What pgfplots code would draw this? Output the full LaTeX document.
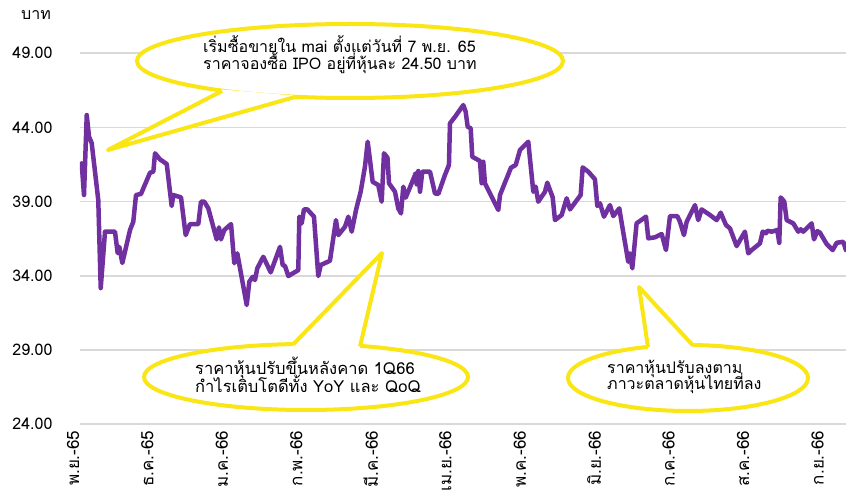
\documentclass[border=0pt]{standalone}
\usepackage{pgfplots}
\pgfplotsset{compat=1.18}
\usepackage{fontspec}
\setmainfont[Script=Thai]{Loma}
\definecolor{linepurple}{RGB}{112,48,160}
\definecolor{cyellow}{RGB}{250,230,20}
\definecolor{gridgray}{RGB}{217,217,217}
\pgfplotstableread{
x y
0.023 41.57
0.054 39.44
0.091 44.83
0.122 43.37
0.158 42.94
0.247 39.10
0.280 33.17
0.338 36.97
0.473 36.97
0.509 35.53
0.531 35.95
0.572 34.86
0.676 37.08
0.720 37.64
0.757 39.44
0.824 39.51
0.946 40.94
0.991 41.01
1.014 42.25
1.081 41.84
1.172 41.53
1.239 38.70
1.261 39.44
1.365 39.28
1.428 36.74
1.486 37.48
1.599 37.48
1.635 38.99
1.680 38.99
1.734 38.54
1.847 36.45
1.878 37.26
1.905 36.45
1.950 37.08
2.041 37.48
2.085 34.84
2.126 35.51
2.253 32.03
2.288 33.60
2.334 33.93
2.365 33.71
2.396 34.50
2.477 35.28
2.577 34.23
2.703 35.95
2.739 34.72
2.770 34.67
2.815 33.98
2.950 34.38
2.964 37.98
2.996 37.53
3.027 38.47
3.072 38.47
3.162 37.98
3.220 33.98
3.253 34.72
3.378 35.01
3.459 37.75
3.491 36.74
3.581 37.30
3.626 37.98
3.672 36.97
3.730 38.43
3.793 39.66
3.851 41.35
3.888 43.03
3.955 40.33
4.031 40.11
4.077 38.99
4.108 42.25
4.155 41.96
4.176 40.23
4.257 39.66
4.301 38.54
4.338 38.20
4.369 40.00
4.401 39.26
4.482 40.23
4.536 40.90
4.550 40.16
4.572 41.06
4.595 39.66
4.626 41.01
4.730 41.01
4.797 39.55
4.842 39.51
4.932 40.79
4.986 41.46
5.000 44.27
5.068 44.71
5.180 45.50
5.212 45.05
5.239 44.04
5.280 43.93
5.301 42.02
5.405 41.73
5.428 40.23
5.450 41.68
5.473 40.23
5.653 38.43
5.676 39.44
5.824 41.28
5.888 41.46
5.946 42.47
6.058 43.03
6.126 39.66
6.158 40.00
6.193 38.99
6.284 39.66
6.315 40.27
6.388 39.28
6.419 37.75
6.509 38.09
6.577 39.22
6.622 38.47
6.766 39.44
6.793 41.30
6.869 41.01
6.959 40.50
6.991 38.70
7.027 38.88
7.081 37.98
7.162 38.76
7.207 38.02
7.288 38.54
7.320 37.57
7.409 34.94
7.432 35.51
7.464 34.50
7.522 37.53
7.649 37.98
7.680 36.52
7.770 36.59
7.861 36.81
7.919 35.73
7.973 38.02
8.072 38.02
8.108 37.64
8.162 36.74
8.199 37.64
8.311 38.76
8.355 37.75
8.401 38.47
8.514 38.09
8.604 37.75
8.658 38.25
8.730 37.42
8.784 37.19
8.874 36.00
8.986 36.97
9.031 35.51
9.077 35.73
9.189 36.18
9.226 36.97
9.270 36.86
9.288 37.03
9.347 36.97
9.423 37.08
9.450 36.22
9.469 39.28
9.518 38.99
9.550 37.75
9.639 37.53
9.707 36.97
9.739 37.13
9.774 36.97
9.888 37.53
9.919 36.45
9.964 37.01
10.000 36.90
10.090 36.14
10.172 35.73
10.226 36.22
10.315 36.29
10.351 35.73
}\pricedata
\begin{document}
\begin{tikzpicture}
\useasboundingbox (0pt,0pt) rectangle (846pt,493pt);
\clip (0pt,0pt) rectangle (846pt,493pt);
\fill[white] (0pt,0pt) rectangle (846pt,493pt);
\begin{axis}[
  at={(80pt,68.8pt)}, anchor=south west,
  scale only axis, width=766.6pt, height=371.1pt,
  xmin=0, xmax=10.36, ymin=24, ymax=49,
  axis line style={draw=none},
  major tick length=0pt,
  ytick={24,29,34,39,44,49},
  ymajorgrids, major grid style={gridgray, line width=1.5pt},
  xtick={0,1.006,2.012,3.019,4.025,5.031,6.037,7.043,8.050,9.056,10.062},
  xticklabels={พ.ย.-65,ธ.ค.-65,ม.ค.-66,ก.พ.-66,มี.ค.-66,เม.ย.-66,พ.ค.-66,มิ.ย.-66,ก.ค.-66,ส.ค.-66,ก.ย.-66},
  xticklabel style={xshift=-7pt, yshift=-3pt, rotate=90, anchor=east, font=\fontsize{17}{20}\selectfont},
  yticklabel style={/pgf/number format/.cd, fixed, fixed zerofill, precision=2, assume math mode=true, /tikz/.cd, font=\fontsize{16}{19}\selectfont, xshift=-24pt},
]
\addplot[linepurple, line width=4.5pt, line join=round, line cap=round, mark=none] table[x=x,y=y] {\pricedata};
\end{axis}
\begin{scope}[x=1pt,y=1pt]
% callout 1
\filldraw[draw=cyellow, fill=white, line width=4pt] (350,432) ellipse [x radius=213, y radius=37];
\fill[white] (222,403.5) -- (108,343) -- (295,397.5) -- cycle;
\draw[cyellow, line width=4pt, line join=round] (222,402) -- (108,343) -- (295,396);
\node[anchor=base west, inner sep=0pt, font=\fontsize{16}{19}\selectfont] at (203,440) {เริ่มซื้อขายใน mai ตั้งแต่วันที่ 7 พ.ย. 65};
\node[anchor=base west, inner sep=0pt, font=\fontsize{16}{19}\selectfont] at (203,423) {ราคาจองซื้อ IPO อยู่ที่หุ้นละ 24.50 บาท};
% callout 2
\filldraw[draw=cyellow, fill=white, line width=4pt] (306,116) ellipse [x radius=162, y radius=33];
\fill[white] (293,147) -- (382,240) -- (360,145) -- cycle;
\draw[cyellow, line width=4pt, line join=round] (293,148.5) -- (382,240) -- (360,146.5);
\node[anchor=base west, inner sep=0pt, font=\fontsize{16.5}{19.5}\selectfont] at (195,118) {ราคาหุ้นปรับขึ้นหลังคาด 1Q66};
\node[anchor=base west, inner sep=0pt, font=\fontsize{16.5}{19.5}\selectfont] at (195,101) {กำไรเติบโตดีทั้ง YoY และ QoQ};
% callout 3
\filldraw[draw=cyellow, fill=white, line width=4pt] (688,115) ellipse [x radius=120, y radius=33];
\fill[white] (648,144) -- (639,206) -- (693,146) -- cycle;
\draw[cyellow, line width=4pt, line join=round] (648,146) -- (639,206) -- (693,147.5);
\node[anchor=base west, inner sep=0pt, font=\fontsize{16}{19}\selectfont] at (607,120) {ราคาหุ้นปรับลงตาม};
\node[anchor=base west, inner sep=0pt, font=\fontsize{16}{19}\selectfont] at (607,103) {ภาวะตลาดหุ้นไทยที่ลง};
% unit label
\node[font=\fontsize{16}{19}\selectfont] at (36,478) {บาท};
\end{scope}
\end{tikzpicture}
\end{document}
